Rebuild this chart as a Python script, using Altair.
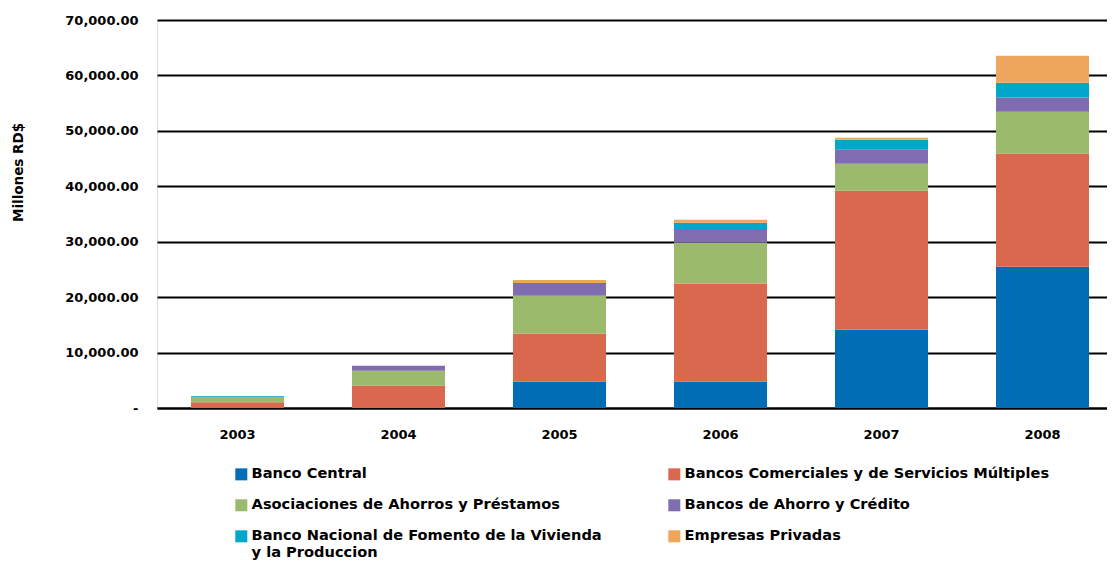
import altair as alt
import pandas as pd

years = ["2003", "2004", "2005", "2006", "2007", "2008"]
series = [
    "Banco Central",
    "Bancos Comerciales y de Servicios Múltiples",
    "Asociaciones de Ahorros y Préstamos",
    "Bancos de Ahorro y Crédito",
    "Banco Nacional de Fomento de la Vivienda y la Produccion",
    "Empresas Privadas",
]
colors = ["#016DB5", "#DA684F", "#9BBA6B", "#806CB0", "#00A7CA", "#EEA65D"]

banco_central = [0, 0, 4750, 4750, 14130, 25490]
bancos_comerciales = [1050, 4040, 8700, 17680, 25070, 20440]
asociaciones = [1000, 2700, 6790, 7400, 4870, 7520]
ahorro_credito = [0, 900, 2310, 2290, 2530, 2590]
bnv = [120, 0, 0, 1320, 1800, 2650]
empresas = [0, 0, 550, 540, 370, 4870]

values = [banco_central, bancos_comerciales, asociaciones, ahorro_credito, bnv, empresas]

rows = []
for si, (name, vals) in enumerate(zip(series, values)):
    for y, v in zip(years, vals):
        rows.append({"year": y, "series": name, "value": v, "order": si})
df = pd.DataFrame(rows)

# legend fills column by column: order domain so it reads row by row
legend_order = [0, 2, 4, 1, 3, 5]
legend_domain = [series[i] for i in legend_order]
legend_range = [colors[i] for i in legend_order]

FONT = "DejaVu Sans"

label_expr = (
    "datum.label == 'Banco Nacional de Fomento de la Vivienda y la Produccion' "
    "? ['Banco Nacional de Fomento de la Vivienda', '\u00a0y la Produccion'] : datum.label"
)

chart = (
    alt.Chart(df)
    .mark_bar()
    .encode(
        x=alt.X(
            "year:N",
            title=None,
            sort=years,
            scale=alt.Scale(paddingInner=0.4224, paddingOuter=0.1615, align=0.654),
            axis=alt.Axis(
                labelAngle=0,
                labelFont=FONT,
                labelFontSize=13,
                labelFontWeight="bold",
                labelColor="#000000",
                labelPadding=20,
                ticks=False,
                tickSize=0,
                domainColor="#000000",
                domainWidth=2,
                grid=False,
            ),
        ),
        y=alt.Y(
            "value:Q",
            title="Millones RD$",
            stack="zero",
            scale=alt.Scale(domain=[0, 70000], nice=False),
            axis=alt.Axis(
                values=[0, 10000, 20000, 30000, 40000, 50000, 60000, 70000],
                labelExpr="datum.value == 0 ? '-' : format(datum.value, ',.2f')",
                labelFont=FONT,
                labelFontSize=13,
                labelFontWeight="bold",
                labelColor="#000000",
                labelPadding=19,
                ticks=False,
                tickSize=0,
                domain=False,
                grid=True,
                gridColor="#000000",
                gridWidth=2,
                titleFont=FONT,
                titleFontSize=13.5,
                titleFontWeight="bold",
                titleColor="#000000",
                titleX=-139,
                titleY=152,
                titleAngle=-90,
                titleAlign="center",
                titleBaseline="middle",
            ),
        ),
        color=alt.Color(
            "series:N",
            scale=alt.Scale(domain=legend_domain, range=legend_range),
            legend=alt.Legend(
                title=None,
                orient="none",
                legendX=77,
                legendY=447,
                columns=2,
                columnPadding=65,
                rowPadding=16,
                padding=0,
                symbolType="square",
                symbolSize=144,
                symbolStrokeWidth=0,
                symbolOpacity=1,
                labelFont=FONT,
                labelFontSize=14.6,
                labelFontWeight="bold",
                labelColor="#000000",
                labelLimit=600,
                labelOffset=3,
                labelExpr=label_expr,
            ),
        ),
        order=alt.Order("order:Q", sort="ascending"),
    )
    .properties(
        width=950,
        height=388,
        padding={"left": 149, "top": 12, "right": 0, "bottom": 154},
        autosize=alt.AutoSizeParams(type="none"),
    )
    .configure_view(stroke=None)
    .configure(background="#ffffff")
)

chart.save("out.html", embed_options={"renderer": "svg", "actions": False})
